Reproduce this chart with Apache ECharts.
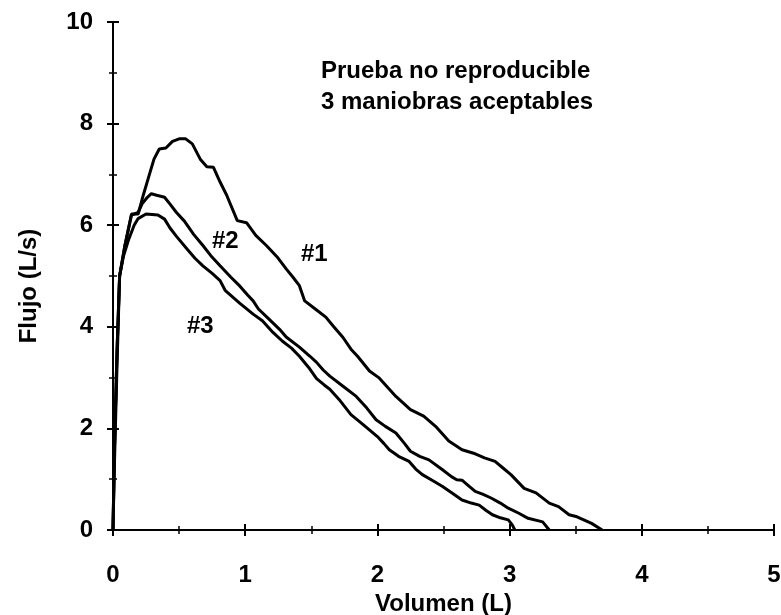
<!DOCTYPE html>
<html>
<head>
<meta charset="utf-8">
<script src="https://cdn.jsdelivr.net/npm/echarts@6/dist/echarts.min.js"></script>
<style>
  html, body { margin: 0; padding: 0; background: #fff; }
  #main { width: 781px; height: 615px; }
</style>
</head>
<body>
<div id="main"></div>
<script>
  // maniobra #1
  const vol1  = [0, 0.01, 0.03, 0.05, 0.09, 0.14, 0.19, 0.23, 0.27, 0.31, 0.35, 0.40, 0.45, 0.50, 0.55, 0.60, 0.66, 0.71, 0.76, 0.81, 0.86, 0.94, 1.01, 1.08, 1.16, 1.24, 1.31, 1.36, 1.41, 1.45, 1.53, 1.61, 1.67, 1.74, 1.80, 1.85, 1.94, 2.01, 2.08, 2.14, 2.25, 2.35, 2.44, 2.54, 2.64, 2.74, 2.81, 2.89, 2.95, 3.01, 3.11, 3.20, 3.30, 3.37, 3.45, 3.51, 3.62, 3.70];
  const flow1 = [0, 1.5, 3.5, 5.0, 5.6, 6.22, 6.22, 6.6, 6.95, 7.3, 7.5, 7.52, 7.65, 7.7, 7.7, 7.6, 7.3, 7.15, 7.14, 6.85, 6.59, 6.09, 6.05, 5.8, 5.6, 5.38, 5.14, 4.98, 4.81, 4.51, 4.35, 4.19, 4.0, 3.79, 3.56, 3.42, 3.13, 3.0, 2.8, 2.63, 2.37, 2.24, 2.04, 1.75, 1.58, 1.5, 1.42, 1.35, 1.22, 1.09, 0.82, 0.73, 0.53, 0.46, 0.3, 0.26, 0.13, 0];
  // maniobra #2
  const vol2  = [0, 0.01, 0.03, 0.05, 0.09, 0.14, 0.19, 0.22, 0.26, 0.29, 0.33, 0.39, 0.43, 0.48, 0.54, 0.61, 0.68, 0.74, 0.81, 0.89, 0.96, 1.02, 1.06, 1.10, 1.18, 1.26, 1.31, 1.41, 1.49, 1.54, 1.59, 1.64, 1.74, 1.84, 1.92, 1.99, 2.06, 2.14, 2.20, 2.25, 2.32, 2.39, 2.49, 2.56, 2.60, 2.64, 2.69, 2.74, 2.80, 2.86, 2.93, 2.99, 3.07, 3.14, 3.25, 3.30];
  const flow2 = [0, 1.5, 3.5, 5.0, 5.6, 6.2, 6.25, 6.42, 6.55, 6.62, 6.59, 6.55, 6.42, 6.25, 6.08, 5.82, 5.6, 5.4, 5.2, 4.98, 4.8, 4.62, 4.51, 4.35, 4.15, 3.95, 3.8, 3.6, 3.42, 3.3, 3.15, 3.03, 2.83, 2.63, 2.4, 2.17, 2.04, 1.91, 1.72, 1.55, 1.45, 1.38, 1.19, 1.05, 0.99, 0.98, 0.87, 0.76, 0.7, 0.63, 0.53, 0.43, 0.33, 0.23, 0.16, 0];
  // maniobra #3
  const vol3  = [0, 0.01, 0.03, 0.05, 0.08, 0.12, 0.16, 0.19, 0.25, 0.34, 0.39, 0.43, 0.48, 0.56, 0.62, 0.68, 0.75, 0.81, 0.85, 0.96, 1.06, 1.13, 1.21, 1.28, 1.35, 1.41, 1.48, 1.54, 1.60, 1.64, 1.71, 1.80, 1.89, 2.00, 2.05, 2.09, 2.16, 2.24, 2.29, 2.34, 2.42, 2.49, 2.57, 2.64, 2.71, 2.77, 2.82, 2.87, 2.93, 2.99, 3.02, 3.04];
  const flow3 = [0, 1.2, 3.2, 5.0, 5.4, 5.73, 6.0, 6.13, 6.22, 6.2, 6.12, 5.95, 5.78, 5.53, 5.35, 5.2, 5.05, 4.91, 4.71, 4.46, 4.25, 4.12, 3.89, 3.72, 3.58, 3.42, 3.2, 2.98, 2.85, 2.77, 2.57, 2.27, 2.08, 1.84, 1.7, 1.58, 1.45, 1.35, 1.2, 1.09, 0.97, 0.86, 0.72, 0.59, 0.53, 0.49, 0.39, 0.3, 0.24, 0.2, 0.1, 0];

  const curveNames = ['#1', '#2', '#3'];
  const titleLines = ['Prueba no reproducible', '3 maniobras aceptables'];

  const zip = (xs, ys) => xs.map((x, i) => [x, ys[i]]);
  const font = 'Liberation Sans, Arial, sans-serif';

  const chart = echarts.init(document.getElementById('main'), null, { renderer: 'canvas' });

  const lineSeries = (name, data) => ({
    name: name,
    type: 'line',
    data: data,
    showSymbol: false,
    lineStyle: { color: '#000', width: 3 },
    animation: false
  });

  const axisBase = {
    axisLine: { show: true, lineStyle: { color: '#000', width: 2 } },
    splitLine: { show: false },
    minorSplitLine: { show: false }
  };

  // eje "fantasma" solo para que las marcas crucen la línea del eje
  const innerTicks = (extra) => Object.assign({
    type: 'value',
    axisLine: { show: false }, axisLabel: { show: false }, splitLine: { show: false },
    axisTick: { show: true, inside: true, length: 6, lineStyle: { color: '#000', width: 2 } },
    minorTick: { show: true, splitNumber: 2, length: 4, lineStyle: { color: '#000', width: 1.5 } }
  }, extra);

  chart.setOption({
    animation: false,
    grid: { left: 113, top: 22, right: 7, bottom: 85, outerBoundsMode: 'none', containLabel: false },
    xAxis: [
      Object.assign({}, axisBase, {
        type: 'value', min: 0, max: 5, interval: 1,
        name: 'Volumen (L)', nameLocation: 'middle', nameGap: 55,
        nameTextStyle: { fontFamily: font, fontWeight: 'bold', fontSize: 24, color: '#000' },
        axisTick: { show: true, length: 6, lineStyle: { color: '#000', width: 2 } },
        minorTick: { show: true, splitNumber: 2, length: 4, lineStyle: { color: '#000', width: 1.5 } },
        axisLabel: { fontFamily: font, fontWeight: 'bold', fontSize: 24, color: '#000', margin: 33 }
      }),
      innerTicks({ min: 0, max: 5, interval: 1, position: 'bottom' })
    ],
    yAxis: [
      Object.assign({}, axisBase, {
        type: 'value', min: 0, max: 10, interval: 2,
        name: 'Flujo (L/s)', nameLocation: 'middle', nameGap: 72,
        nameTextStyle: { fontFamily: font, fontWeight: 'bold', fontSize: 24, color: '#000', padding: [0, 20, 0, 0] },
        axisTick: { show: true, length: 6, lineStyle: { color: '#000', width: 2 } },
        minorTick: { show: true, splitNumber: 2, length: 4, lineStyle: { color: '#000', width: 1.5 } },
        axisLabel: { fontFamily: font, fontWeight: 'bold', fontSize: 24, color: '#000', margin: 20 }
      }),
      innerTicks({ min: 0, max: 10, interval: 2, position: 'left' })
    ],
    graphic: [
      { type: 'text', left: 321, top: 56, style: { text: titleLines.join('\n'), font: 'bold 24px ' + font, fill: '#000', lineHeight: 31 } },
      { type: 'text', left: 301, top: 242, style: { text: curveNames[0], font: 'bold 24px ' + font, fill: '#000' } },
      { type: 'text', left: 212, top: 229, style: { text: curveNames[1], font: 'bold 24px ' + font, fill: '#000' } },
      { type: 'text', left: 187, top: 314, style: { text: curveNames[2], font: 'bold 24px ' + font, fill: '#000' } }
    ],
    series: [
      lineSeries(curveNames[0], zip(vol1, flow1)),
      lineSeries(curveNames[1], zip(vol2, flow2)),
      lineSeries(curveNames[2], zip(vol3, flow3))
    ]
  });
</script>
</body>
</html>
